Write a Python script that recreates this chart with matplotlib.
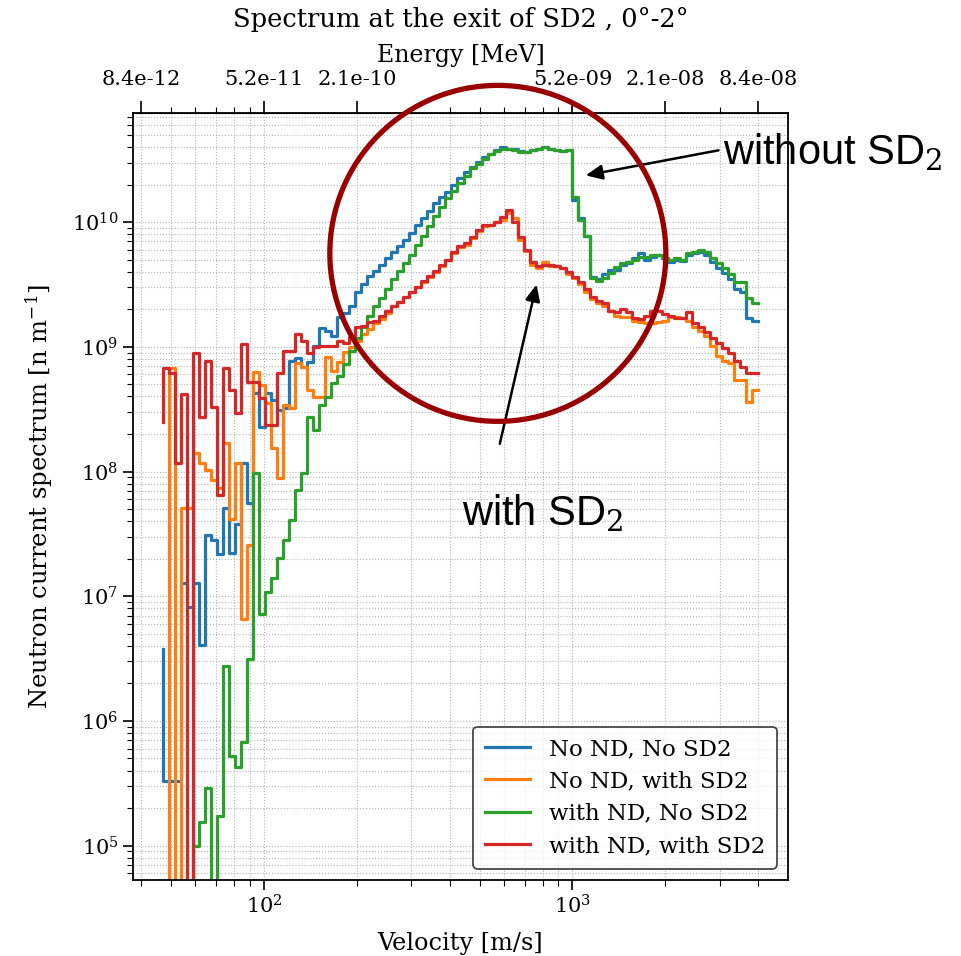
import numpy as np
import matplotlib
matplotlib.use('Agg')
import matplotlib.pyplot as plt
from matplotlib.patches import Ellipse
from matplotlib.ticker import NullFormatter

plt.rcParams['font.family'] = 'DejaVu Serif'
plt.rcParams['mathtext.fontset'] = 'dejavuserif'

# velocity bins [m/s], log spaced
v_min, v_max, n_bins = 47.0, 4000.0, 100

# log10 of the neutron current spectrum per bin, nan = empty bin
log_no_nd_no_sd2 = [
    6.58, 5.52, 5.52, 5.52, 7.11, 6.91, 7.11, 6.61, 7.49, 7.45,
    7.34, 7.71, 7.35, 7.58, 8.07, 7.75, 8.63, 8.36, 8.63, 8.57,
    8.49, 8.51, 8.89, 8.91, 8.84, 8.88, 9.01, 9.15, 9.13, 9.09,
    9.24, 9.27, 9.33, 9.44, 9.50, 9.57, 9.61, 9.66, 9.71, 9.76,
    9.81, 9.86, 9.91, 9.98, 10.03, 10.09, 10.15, 10.20, 10.24, 10.30,
    10.35, 10.40, 10.44, 10.48, 10.52, 10.55, 10.58, 10.60, 10.59, 10.59,
    10.57, 10.56, 10.58, 10.59, 10.60, 10.59, 10.58, 10.57, 10.58, 10.18,
    10.03, 9.89, 9.56, 9.54, 9.58, 9.62, 9.62, 9.66, 9.67, 9.71,
    9.75, 9.70, 9.72, 9.74, 9.71, 9.68, 9.70, 9.69, 9.74, 9.75,
    9.76, 9.74, 9.68, 9.63, 9.59, 9.54, 9.46, 9.44, 9.23, 9.21,
]
log_no_nd_with_sd2 = [
    np.nan, np.nan, 8.83, np.nan, 7.71, 7.71, 8.15, 8.07, 8.01, 7.93,
    7.87, 8.23, 7.62, 8.07, 6.82, 7.41, 8.80, 8.69, 8.55, 8.19,
    7.95, 8.53, 8.51, 8.87, 8.84, 8.65, 8.60, 8.60, 8.92, 8.81,
    8.88, 8.96, 9.00, 9.05, 9.10, 9.14, 9.19, 9.22, 9.27, 9.33,
    9.36, 9.40, 9.44, 9.48, 9.52, 9.56, 9.60, 9.65, 9.70, 9.75,
    9.80, 9.82, 9.87, 9.93, 9.97, 9.98, 10.00, 10.02, 10.07, 10.03,
    9.86, 9.77, 9.66, 9.63, 9.68, 9.65, 9.65, 9.63, 9.58, 9.55,
    9.50, 9.44, 9.38, 9.35, 9.33, 9.29, 9.25, 9.24, 9.24, 9.21,
    9.20, 9.19, 9.19, 9.20, 9.21, 9.24, 9.24, 9.23, 9.21, 9.16,
    9.13, 9.09, 9.01, 8.93, 8.89, 8.87, 8.73, 8.73, 8.56, 8.65,
]
log_with_nd_no_sd2 = [
    np.nan, np.nan, np.nan, np.nan, np.nan, np.nan, 5.00, 5.19, 5.46, np.nan,
    5.24, 6.44, 5.72, 5.63, 5.83, 6.50, 7.99, 6.86, 7.03, 7.15,
    7.31, 7.45, 7.61, 7.85, 7.99, 8.44, 8.33, 8.53, 8.60, 8.71,
    8.77, 8.86, 8.97, 9.07, 9.16, 9.25, 9.33, 9.39, 9.46, 9.54,
    9.61, 9.67, 9.74, 9.82, 9.89, 9.97, 10.05, 10.12, 10.19, 10.25,
    10.31, 10.37, 10.43, 10.47, 10.51, 10.55, 10.57, 10.59, 10.59, 10.58,
    10.56, 10.56, 10.58, 10.59, 10.60, 10.59, 10.58, 10.57, 10.58, 10.20,
    10.02, 9.89, 9.55, 9.53, 9.55, 9.59, 9.64, 9.67, 9.68, 9.70,
    9.72, 9.72, 9.74, 9.74, 9.71, 9.70, 9.71, 9.70, 9.75, 9.76,
    9.78, 9.76, 9.71, 9.67, 9.63, 9.58, 9.52, 9.52, 9.39, 9.35,
]
log_with_nd_with_sd2 = [
    8.40, 8.83, 8.79, 8.07, 8.62, np.nan, 8.95, 8.44, 8.89, 8.52,
    7.81, 8.83, 8.65, 8.47, 9.02, 8.72, 8.72, 8.59, 8.37, 8.37,
    8.79, 8.97, 8.97, 9.10, 9.05, 8.95, 9.00, 9.01, 9.01, 9.01,
    9.05, 9.03, 9.08, 9.16, 9.17, 9.20, 9.21, 9.25, 9.29, 9.33,
    9.36, 9.40, 9.44, 9.48, 9.53, 9.57, 9.61, 9.66, 9.70, 9.76,
    9.81, 9.83, 9.88, 9.94, 9.98, 9.98, 10.00, 10.04, 10.10, 10.00,
    9.88, 9.78, 9.68, 9.65, 9.66, 9.66, 9.65, 9.63, 9.60, 9.56,
    9.52, 9.46, 9.40, 9.37, 9.35, 9.29, 9.28, 9.30, 9.28, 9.23,
    9.22, 9.25, 9.29, 9.29, 9.26, 9.25, 9.23, 9.23, 9.28, 9.19,
    9.16, 9.12, 9.07, 9.03, 8.99, 8.95, 8.89, 8.84, 8.79, 8.79,
]

series = [log_no_nd_no_sd2, log_no_nd_with_sd2, log_with_nd_no_sd2, log_with_nd_with_sd2]
labels = ['No ND, No SD2', 'No ND, with SD2', 'with ND, No SD2', 'with ND, with SD2']
colors = ['#1f77b4', '#ff7f0e', '#2ca02c', '#d62728']

# velocities shown on the top (energy) axis
energy_tick_v = [40, 100, 200, 1000, 2000, 4000]


def energie_mev(v):
    # kineticka energija neutrona, 0.5 m v^2 u MeV
    return 0.5 * 1.67493e-27 * np.asarray(v, dtype=float) ** 2 / 1.602177e-13


fig = plt.figure(figsize=(9.61, 9.56), dpi=100)
ax = fig.add_axes([133 / 961, 76 / 956, 655 / 961, 767 / 956])

v = np.geomspace(v_min, v_max, n_bins)
for vals, lab, col in zip(series, labels, colors):
    vals = np.array(vals, dtype=float)
    y = np.where(np.isnan(vals), 0.0, 10 ** vals)
    ax.step(v, y, where='pre', lw=2.3, color=col, label=lab)

ax.set_xscale('log')
ax.set_yscale('log')
ax.set_ylim(5.3e4, 7.5e10)
ax.grid(True, which='both', ls=':', color='0.7', lw=0.8)
ax.tick_params(which='major', labelsize=15, length=7, width=1.2)
ax.tick_params(which='minor', length=4, width=0.8)
ax.xaxis.set_minor_formatter(NullFormatter())
ax.yaxis.set_minor_formatter(NullFormatter())
for sp in ax.spines.values():
    sp.set_linewidth(1.3)

ax.set_xlabel('Velocity [m/s]', fontsize=17.3, labelpad=10)
ax.set_ylabel('Neutron current spectrum [n m$^{-1}$]', fontsize=17.5, labelpad=12)

# gornja osa sa energijom
sec = ax.secondary_xaxis('top')
sec.set_xticks(energy_tick_v)
sec.set_xticklabels(['%.1e' % e for e in energie_mev(energy_tick_v)])
sec.xaxis.set_minor_formatter(NullFormatter())
sec.tick_params(which='major', labelsize=15, length=9, width=1.2, pad=8)
sec.tick_params(which='minor', length=4, width=0.8)
sec.set_xlabel('Energy [MeV]', fontsize=17, labelpad=6)
ax.set_title('Spectrum at the exit of SD2 , 0°-2°', fontsize=18.5, pad=12)

leg = ax.legend(loc='lower right', fontsize=16.5, frameon=True, fancybox=True,
                edgecolor='0.1', handlelength=2.0, handletextpad=0.8,
                borderpad=0.5, labelspacing=0.45, borderaxespad=0.5)
leg.get_frame().set_linewidth(1.3)

# oznake na slici
ax.add_patch(Ellipse((0.557, 0.817), 0.513, 0.438, transform=ax.transAxes,
                     fill=False, ec='#990000', lw=3.8, clip_on=False, zorder=5))
ax.annotate('', xy=(0.687, 0.918), xytext=(0.898, 0.952), xycoords='axes fraction',
            arrowprops=dict(arrowstyle='-|>,head_length=1.0,head_width=0.45', color='black', lw=1.8),
            annotation_clip=False)
ax.annotate('', xy=(0.617, 0.780), xytext=(0.559, 0.565), xycoords='axes fraction',
            arrowprops=dict(arrowstyle='-|>,head_length=1.0,head_width=0.45', color='black', lw=1.8),
            annotation_clip=False)
ax.text(0.901, 0.948, 'without SD$_2$', transform=ax.transAxes, fontsize=30,
        family='Liberation Sans', ha='left', va='center', clip_on=False)
ax.text(0.502, 0.478, 'with SD$_2$', transform=ax.transAxes, fontsize=30,
        family='Liberation Sans', ha='left', va='center')

plt.savefig('out.png', dpi=100)
